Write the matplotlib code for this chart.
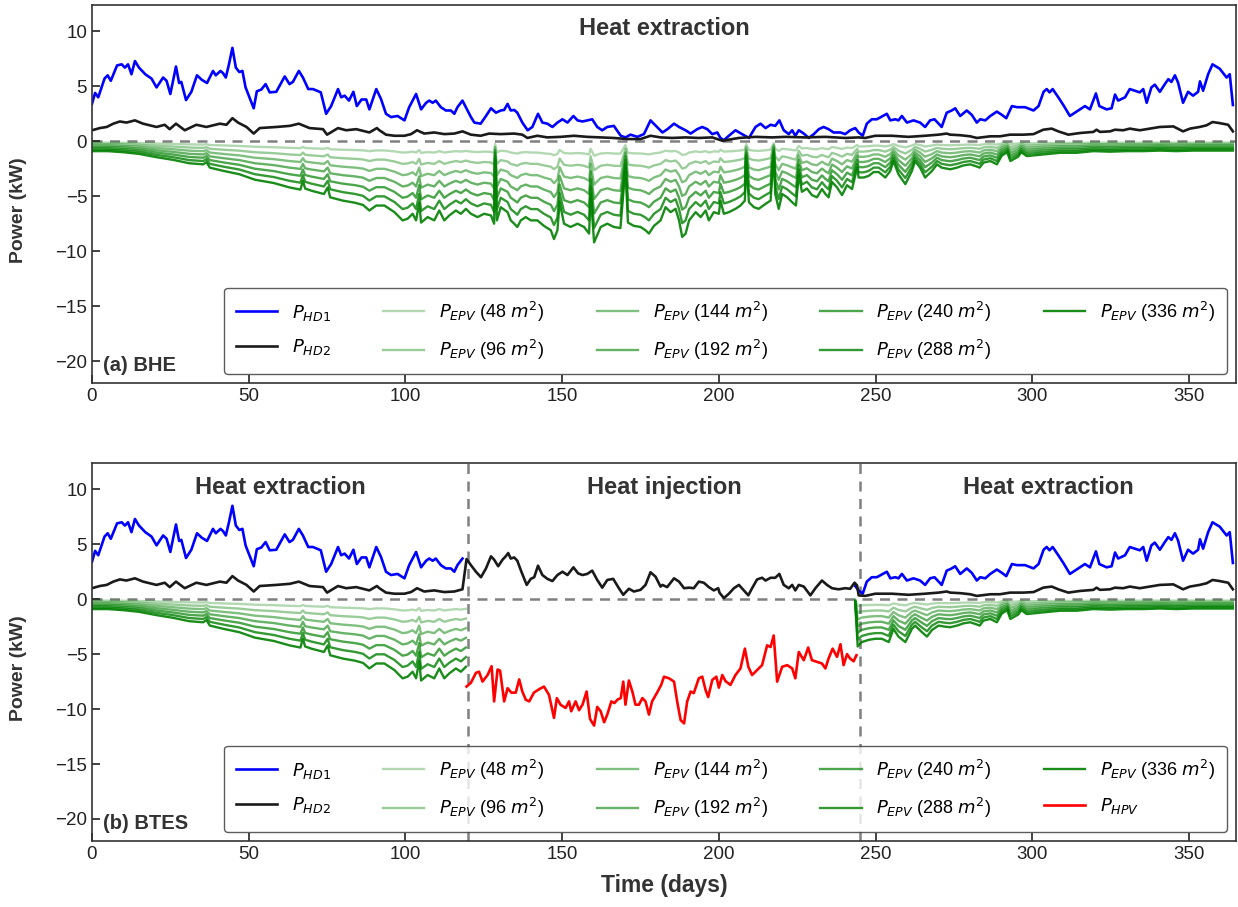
import numpy as np
import matplotlib
matplotlib.use('Agg')
import matplotlib.pyplot as plt

# ---- values, (day, kW) ----
hd1 = [(0, 3.4), (1, 4.4), (2, 4.0), (4, 5.7), (5, 6.0), (6, 5.5), (8, 6.9), (9.5, 7.0), (10.5, 6.7),
       (11.5, 7.0), (12.6, 6.1), (13.7, 7.3), (15, 6.7), (17, 6.1), (19, 5.7), (20.6, 4.9), (22.7, 5.8),
       (23.8, 5.5), (25, 4.3), (26.8, 6.8), (27.8, 5.3), (28.5, 5.4), (30, 3.75), (31.7, 4.5), (33.5, 6.0),
       (35, 5.6), (36.7, 5.3), (38.6, 6.4), (39.5, 6.0), (41, 6.4), (41.8, 6.2), (42.7, 5.8), (43.7, 7.0),
       (44.8, 8.5), (45.9, 6.7), (47, 6.3), (48, 6.4), (49, 4.9), (51.6, 3.0), (52.6, 4.55), (54, 4.7),
       (55.4, 5.2), (56.7, 4.45), (58.8, 4.5), (61.5, 5.9), (63, 5.2), (64.1, 5.4), (66, 6.4), (67.3, 5.8),
       (69, 4.75), (70.5, 4.75), (73, 4.45), (74.7, 2.5), (76.3, 3.2), (78.5, 4.75), (79.5, 4.0), (80.6, 4.15),
       (82, 3.7), (83.4, 4.5), (84.5, 3.2), (86, 3.8), (87.5, 3.8), (88.5, 2.9), (90.7, 4.75), (92.2, 3.85),
       (93.8, 2.5), (95.4, 2.2), (97.5, 2.3), (99.7, 1.9), (101.2, 3.1), (103.4, 4.3), (105, 2.9), (106.6, 3.5),
       (107.6, 3.7), (108.7, 3.5), (109.7, 3.7), (111.3, 3.1), (112.9, 2.8), (114.5, 2.8), (115.6, 2.5),
       (116.6, 3.1), (118.2, 3.7), (119.8, 2.8), (120.9, 2.2), (122, 1.7), (124, 1.6), (125.7, 2.3),
       (127.3, 3.0), (128.9, 2.6), (130.4, 2.8), (131.5, 2.85), (132.6, 3.4), (133.6, 2.8), (134.7, 2.85),
       (135.7, 2.6), (137.3, 1.7), (139, 1.0), (140.5, 1.3), (142.3, 2.5), (143.7, 1.7), (145.3, 1.6),
       (146.9, 1.3), (148.5, 1.7), (150.1, 2.0), (151.7, 1.7), (153.6, 2.3), (154.9, 1.9), (156.5, 1.8),
       (158, 1.9), (159.6, 2.0), (161.2, 1.3), (162.8, 1.0), (164.4, 1.3), (166.5, 1.4), (168.7, 0.5),
       (170.2, 0.35), (171.8, 0.6), (174, 0.4), (176.1, 0.65), (178.2, 1.9), (180.3, 1.3), (182, 0.8),
       (183.6, 1.1), (185.7, 1.6), (187.3, 1.3), (189.4, 1.0), (191, 0.7), (193.1, 1.1), (194.7, 1.3),
       (196.3, 1.1), (197.9, 0.65), (199.5, 0.8), (200.5, 0.3), (201.6, 0.1), (203.2, 0.5), (205.3, 1.0),
       (207.4, 0.65), (209.6, 0.3), (211.7, 1.3), (213.3, 1.6), (214.9, 1.2), (216.5, 1.5), (218, 1.4),
       (219.3, 1.9), (220.7, 1.0), (222.3, 0.65), (223.4, 1.0), (224.4, 0.5), (225.5, 1.0), (227.1, 0.7),
       (228.7, 0.3), (230.3, 0.65), (231.9, 1.1), (233.4, 1.3), (235, 1.1), (236.6, 0.8), (238.8, 0.8),
       (240.3, 0.65), (241.9, 1.0), (243.5, 1.2), (244.6, 0.8), (245.9, 0.5), (247.2, 1.6), (248.8, 2.0),
       (250.4, 2.0), (252, 2.25), (253.6, 2.5), (254.7, 1.9), (256.3, 2.0), (257.3, 1.9), (258.4, 2.3),
       (260, 1.7), (262.1, 1.9), (264.2, 1.7), (265.8, 1.3), (267.4, 1.9), (268.8, 2.0), (271.1, 1.3),
       (272.7, 2.6), (274.3, 2.8), (275.4, 3.0), (277, 2.3), (279.1, 2.8), (280.7, 2.4), (282.3, 1.7),
       (283.4, 2.0), (285, 1.9), (286.6, 2.3), (288.7, 2.7), (290.3, 2.4), (291.7, 2.1), (293.5, 3.2),
       (295.1, 3.1), (297.7, 3.1), (300.4, 2.8), (302, 3.2), (303.6, 4.5), (304.6, 4.75), (305.5, 4.45),
       (306.5, 4.75), (308.3, 4.0), (309.9, 3.3), (312, 2.3), (313.6, 2.6), (315.2, 2.9), (316.8, 3.2),
       (318.4, 2.9), (320.3, 4.35), (321.4, 3.2), (323.7, 2.9), (325.3, 3.0), (326.4, 4.25), (327.4, 3.7),
       (329.6, 4.0), (331.1, 4.75), (332.7, 4.6), (334.3, 4.45), (335.4, 4.75), (336.5, 3.5), (338, 4.9),
       (339.1, 5.15), (340.7, 4.5), (342.3, 5.2), (343.4, 5.65), (344.4, 5.4), (345.5, 6.0), (346.5, 5.35),
       (348.1, 3.5), (349.7, 4.5), (351.3, 4.15), (352.9, 4.5), (353.5, 5.45), (354.5, 4.6), (356.1, 6.1),
       (357.5, 7.0), (359.8, 6.6), (362, 5.8), (363, 6.1), (364, 3.3)]

hd2 = [(0, 1.0), (2.5, 1.2), (4.7, 1.3), (6.8, 1.6), (8.9, 1.8), (11, 1.7), (13.7, 1.9), (16.3, 1.6),
       (20.6, 1.3), (23.2, 1.5), (24.8, 1.1), (26.8, 1.6), (29.6, 1.0), (33.3, 1.5), (36.5, 1.3), (40.8, 1.6),
       (42.9, 1.5), (44.8, 2.1), (46.6, 1.7), (49.3, 1.3), (51.6, 0.7), (53.5, 1.2), (58.8, 1.3), (63.1, 1.4),
       (66, 1.6), (69.4, 1.2), (73.7, 1.1), (75, 0.6), (78.5, 1.2), (81.1, 1.0), (84.3, 1.1), (88.5, 0.8),
       (90.9, 1.2), (91.7, 1.0), (93.8, 0.6), (96.5, 0.5), (99.7, 0.5), (101.8, 0.65), (103.7, 1.0),
       (106, 0.7), (109.2, 0.8), (112.4, 0.65), (115.6, 0.7), (118.2, 0.9), (120.9, 0.6), (124, 0.5),
       (126.7, 0.7), (130.4, 0.65), (134.7, 0.7), (137.3, 0.6), (138.9, 0.3), (142.1, 0.5), (145.3, 0.35),
       (149.5, 0.4), (153.8, 0.5), (158, 0.4), (162.3, 0.35), (166.5, 0.3), (170.8, 0.2), (175, 0.2),
       (178.2, 0.5), (181.4, 0.35), (185.1, 0.3), (189.4, 0.35), (193.6, 0.3), (197.9, 0.35), (201.1, 0.05),
       (206.4, 0.3), (211.7, 0.4), (217, 0.35), (221.2, 0.4), (227.6, 0.35), (234, 0.4), (240.3, 0.3),
       (244.6, 0.35), (246.7, 0.3), (249.9, 0.5), (255.2, 0.5), (260.5, 0.4), (265.8, 0.5), (270.1, 0.6),
       (272.7, 0.7), (273.8, 0.6), (277, 0.55), (280.2, 0.45), (282.3, 0.3), (286.6, 0.45), (289.7, 0.45),
       (292.9, 0.6), (297.2, 0.6), (300.4, 0.65), (303.5, 1.05), (306.2, 1.15), (308.3, 0.9), (311.5, 0.6),
       (315.2, 0.75), (319.5, 0.85), (320.5, 1.05), (321.6, 0.85), (324.8, 0.9), (326.4, 1.05), (329, 1.0),
       (331.1, 1.15), (334.3, 1.0), (337.5, 1.15), (340.7, 1.3), (345, 1.35), (348.1, 0.9), (350.3, 1.15),
       (353.4, 1.3), (355.6, 1.45), (357.5, 1.75), (359.8, 1.65), (362.5, 1.5), (364, 0.9)]

# P_EPV of the largest field (336 m2); the smaller fields scale with collector area
epv336 = [(0, -0.9), (5, -0.9), (10, -1.0), (15, -1.15), (20.6, -1.45), (26, -1.7), (31, -2.0), (35.5, -2.1),
          (36.5, -1.9), (37.6, -2.4), (42, -2.7), (47, -3.0), (52, -3.5), (58, -3.8), (63, -4.2), (66.5, -4.4),
          (67.3, -3.6), (68, -4.3), (70, -4.5), (74, -4.8), (75.2, -4.2), (76, -5.1), (80, -5.4), (84, -5.6),
          (86.5, -5.8), (88.5, -6.3), (90.7, -5.85), (93.3, -5.85), (96.5, -6.45), (99.1, -7.2), (100.7, -7.05),
          (102.3, -6.6), (103.4, -7.2), (104.4, -5.6), (105, -7.4), (107.1, -6.9), (109.2, -7.2), (110.8, -6.3),
          (112.4, -7.2), (114, -6.75), (116.1, -6.3), (117.7, -6.6), (119.3, -6.15), (120.9, -6.6), (123, -6.9),
          (125.1, -6.6), (127.3, -6.75), (128.3, -7.5), (128.6, -1.8), (129.2, -7.2), (130.4, -6.0),
          (132.6, -6.45), (133.6, -7.2), (134.7, -7.5), (135.7, -7.8), (136.8, -7.2), (138.4, -6.9), (140, -7.2),
          (142.1, -7.2), (144.2, -7.7), (146.4, -8.1), (147.4, -8.9), (148.5, -8.1), (149.2, -5.5), (150.6, -7.5),
          (152.7, -7.8), (154.9, -7.5), (157, -7.8), (158.6, -8.4), (159.1, -4.8), (160.2, -9.2), (162.3, -7.8),
          (164.4, -7.5), (166.5, -7.8), (168.6, -7.9), (170.2, -2.4), (171, -7.4), (172.9, -7.7), (175, -7.8),
          (176.6, -8.1), (177.7, -8.4), (179.3, -7.7), (181.4, -7.2), (183, -6.0), (184.6, -6.45), (186.2, -6.15),
          (187.3, -7.2), (188.3, -8.7), (189.4, -8.4), (190.5, -7.2), (192.6, -6.45), (194.2, -6.9), (195.8, -6.3),
          (196.8, -7.2), (198.4, -6.45), (200, -6.6), (200.5, -5.4), (201.6, -6.6), (203.2, -6.45), (205.3, -6.15),
          (206.9, -5.85), (208.3, -5.4), (208.7, -1.8), (209.6, -5.55), (211.2, -6.0), (212.7, -6.15),
          (214.9, -5.7), (216.5, -5.4), (217.5, -1.2), (218, -4.8), (219.1, -6.15), (220.2, -4.8), (221.8, -5.1),
          (223.4, -5.55), (224.6, -5.85), (225.5, -3.0), (226.5, -4.6), (228.1, -4.3), (229.7, -4.9),
          (231.3, -5.1), (232.9, -4.35), (234, -4.8), (235, -5.1), (236.1, -3.7), (237.7, -4.2), (239.3, -4.9),
          (240.9, -4.0), (242.5, -4.35), (244.1, -2.4), (244.6, -3.3), (246.2, -3.3), (247.8, -3.15),
          (249.4, -2.8), (251, -2.8), (253.1, -3.3), (254.7, -2.7), (255.7, -1.8), (257.3, -3.0), (259.5, -3.9),
          (261.6, -2.7), (262.6, -1.8), (264.2, -2.4), (265.8, -3.3), (268, -2.7), (269.6, -2.1), (271.1, -2.4),
          (273.8, -2.55), (276, -2.4), (278, -2.2), (280.2, -2.1), (282.3, -2.3), (283.2, -2.4), (284.4, -1.95),
          (286.6, -1.8), (288.7, -2.1), (290.3, -1.3), (292, -1.0), (293, -1.8), (295.5, -1.4), (296.5, -1.0),
          (298.2, -1.35), (303.5, -1.2), (308.9, -1.05), (314.2, -1.05), (319.5, -0.9), (324.8, -0.95),
          (330.1, -0.9), (335.4, -0.9), (340.7, -0.85), (346, -0.9), (351.3, -0.85), (356.6, -0.85), (364, -0.85)]

# panel (b): 336 m2 curve right after injection stops
epv336_restart = [(243.5, -0.3), (244.3, -4.3), (245.6, -3.9), (247.8, -3.7), (249.9, -3.6), (252, -3.6),
                  (254.2, -3.9), (255.7, -2.7), (257.3, -3.4), (259.5, -3.9), (261.6, -2.7), (262.6, -2.4),
                  (264.8, -3.0), (266.4, -3.4), (268, -2.8), (270.1, -2.4), (272.2, -2.5)]

# panel (b): P_HD2 during heat injection
hd2_inj = [(119.5, 3.65), (120.9, 3.1), (122.5, 2.5), (124.1, 2.0), (125.7, 2.8), (127.3, 3.9), (128.3, 3.6),
           (129.6, 3.0), (131, 3.6), (132, 3.9), (132.8, 4.2), (133.6, 3.7), (134.7, 3.8), (135.7, 3.5),
           (137, 2.5), (138.7, 1.3), (140, 1.85), (141.1, 2.0), (142.3, 3.05), (143.7, 2.2), (145.3, 1.85),
           (146.9, 1.65), (148.5, 2.2), (150.1, 2.5), (151.7, 2.2), (153.6, 2.9), (155.1, 2.35), (156.5, 2.2),
           (158, 2.3), (159.6, 2.6), (161.2, 1.75), (162.8, 1.05), (164.4, 1.75), (166.3, 1.85), (168.1, 1.0),
           (169.5, 0.4), (171.3, 0.95), (172.9, 0.7), (175, 0.85), (176.6, 1.3), (178.2, 2.45), (179.8, 2.05),
           (181.4, 1.15), (182, 1.3), (183.5, 1.1), (185.7, 1.9), (187.3, 1.6), (188.9, 1.0), (190.5, 1.05),
           (192, 1.0), (193.6, 1.6), (195.2, 1.5), (196.8, 1.1), (198.4, 0.8), (199.8, 1.0), (200.2, 0.6),
           (201.6, 0.1), (203.2, 0.5), (204.8, 1.0), (206.4, 1.3), (208, 0.8), (209.4, 0.35), (210.6, 1.0),
           (212.2, 1.8), (213.8, 1.95), (214.9, 1.7), (216.5, 1.95), (218, 1.95), (219.3, 2.3), (220.7, 1.3),
           (222.3, 1.0), (223.4, 1.3), (224.4, 0.8), (225.5, 1.3), (227.1, 1.15), (229.2, 0.35), (230.8, 1.0),
           (232.9, 1.7), (234.5, 1.3), (236.1, 1.0), (238.2, 0.9), (240.3, 1.0), (241.9, 0.95), (243.3, 1.5),
           (244.1, 1.25)]

# panel (b): P_HPV during heat injection
hpv = [(119.5, -7.95), (120.9, -7.6), (122.5, -6.7), (123.5, -6.6), (124.6, -7.5), (126.2, -6.9), (127.5, -6.1),
       (128.3, -9.3), (129.4, -6.4), (130.2, -6.5), (131.5, -9.3), (132.6, -8.1), (133.8, -8.5), (135.2, -8.5),
       (136.3, -7.3), (137.3, -8.4), (138.4, -9.15), (139.5, -9.3), (141, -8.5), (142.6, -8.2), (144.2, -7.95),
       (145.8, -8.7), (147.4, -10.8), (148.3, -9.0), (149.5, -9.6), (151.1, -9.9), (152.2, -9.3), (152.9, -10.2),
       (154.3, -9.3), (155.4, -10.1), (156.5, -9.6), (157.8, -8.4), (158.9, -10.9), (160.2, -11.5), (161.2, -9.8),
       (162.3, -10.2), (163.4, -11.2), (164.4, -10.5), (165.7, -9.3), (166.7, -9.45), (167.6, -9.15),
       (168.7, -9.0), (169.5, -7.5), (170.2, -9.6), (171.3, -7.4), (172.4, -8.4), (173.4, -9.6), (174.5, -9.6),
       (175.6, -9.0), (176.6, -9.3), (177.7, -10.5), (178.7, -9.3), (180.3, -8.5), (181.6, -7.8), (182.5, -7.05),
       (184.1, -7.2), (185.7, -7.5), (186.7, -9.3), (187.8, -11.0), (188.9, -11.3), (189.9, -9.3), (191, -8.4),
       (192, -8.55), (193.6, -7.2), (194.7, -7.05), (195.8, -8.3), (196.6, -8.9), (197.9, -7.35), (199.2, -7.05),
       (200, -8.05), (201.1, -6.9), (202.1, -7.45), (203.7, -7.8), (205.3, -6.9), (206.9, -6.3), (208.3, -4.5),
       (209.4, -6.15), (210.6, -6.9), (212.2, -6.45), (213.8, -6.0), (215.4, -4.2), (216.5, -4.35), (217.5, -3.3),
       (218.6, -7.5), (220.2, -6.15), (221.8, -6.0), (223.4, -6.3), (224.4, -7.2), (225.5, -4.8), (227.1, -5.55),
       (228.5, -4.4), (229.7, -5.55), (231.3, -5.7), (232.9, -5.85), (234, -6.3), (235, -5.4), (236.3, -4.5),
       (237.7, -5.25), (238.8, -4.1), (239.8, -6.0), (240.9, -5.0), (241.9, -5.4), (243, -5.65), (243.9, -5.1)]

areas = [48, 96, 144, 192, 240, 288, 336]
green_alpha = [0.3, 0.4, 0.5, 0.6, 0.7, 0.8, 0.9]

inj_start, inj_end = 120, 245      # heat injection period of the BTES case (days)

plt.rcParams['font.family'] = ['Liberation Sans', 'DejaVu Sans']
plt.rcParams['mathtext.fontset'] = 'dejavusans'

TXT = '#333333'


def xy(pairs):
	a = np.array(pairs, dtype=float)
	return a[:, 0], a[:, 1]


def split(days, kw, keep):
	# drop the days not kept and break the line where the gap is
	d = np.where(keep, days, np.nan)
	k = np.where(keep, kw, np.nan)
	return d, k


def plot_epv(ax, days, kw):
	for area, alpha in zip(areas, green_alpha):
		ax.plot(days, kw * area / 336.0, color='green', alpha=alpha, lw=1.7,
		        label=r'$P_{EPV}$ (%d $m^2$)' % area)


def style_axes(ax, tag):
	ax.set_xlim(0, 365)
	ax.set_ylim(-22, 12.4)
	ax.set_xticks(range(0, 351, 50))
	ax.set_yticks(range(-20, 11, 5))
	ax.tick_params(direction='in', length=6, width=1.2, labelsize=13.5, colors='#222222')
	for s in ax.spines.values():
		s.set_color('#333333')
		s.set_linewidth(1.2)
	ax.axhline(0, color='gray', ls='--', lw=1.8, dashes=(4, 3), zorder=1)
	ax.set_ylabel('Power (kW)', fontsize=14, fontweight='bold', color=TXT)
	ax.yaxis.set_label_coords(-0.057, 0.458)
	ax.text(3.5, -20.4, tag, fontsize=14.5, fontweight='bold', color=TXT, va='center')
	leg = ax.legend(loc='lower right', ncol=5, fontsize=13, handlelength=2.3, handletextpad=0.8,
	                labelspacing=0.8, borderpad=0.65, columnspacing=2.9, fancybox=True,
	                borderaxespad=0.5)
	leg.get_frame().set_edgecolor('#333333')
	leg.get_frame().set_linewidth(1.0)


fig = plt.figure(figsize=(12.38, 9.07), dpi=100)
axA = fig.add_axes([0.0743, 0.5777, 0.9241, 0.4168])
axB = fig.add_axes([0.0743, 0.0728, 0.9241, 0.4168])

d1, p1 = xy(hd1)
d2, p2 = xy(hd2)
de, pe = xy(epv336)
dr, pr = xy(epv336_restart)
di, pi = xy(hd2_inj)
dh, ph = xy(hpv)

# ---- (a) BHE ----
axA.plot(d1, p1, color='blue', lw=1.9, label=r'$P_{HD1}$')
axA.plot(d2, p2, color='#1a1a1a', lw=1.9, label=r'$P_{HD2}$')
plot_epv(axA, de, pe)
axA.text(182.5, 10.3, 'Heat extraction', ha='center', va='center', fontsize=17,
         fontweight='bold', color=TXT)
style_axes(axA, '(a) BHE')

# ---- (b) BTES ----
last_ext = inj_start - 0.5     # last heat-extraction day before injection
first_ext = inj_end - 1.5      # first heat-extraction day after injection

bd, bk = split(d1, p1, (d1 < last_ext) | (d1 >= first_ext))
axB.plot(bd, bk, color='blue', lw=1.9, label=r'$P_{HD1}$')

before = d2 < last_ext
after = d2 >= inj_end - 0.5
hd2_d = np.concatenate([d2[before], di, d2[after]])
hd2_k = np.concatenate([p2[before], pi, p2[after]])
axB.plot(hd2_d, hd2_k, color='#1a1a1a', lw=1.9, label=r'$P_{HD2}$')

early = de < last_ext
late = de > dr[-1]
epv_d = np.concatenate([de[early], [np.nan], dr, de[late]])
epv_k = np.concatenate([pe[early], [np.nan], pr, pe[late]])
plot_epv(axB, epv_d, epv_k)

axB.plot(dh, ph, color='red', lw=1.9, label=r'$P_{HPV}$')

for x in (inj_start, inj_end):
	axB.axvline(x, color='gray', ls='--', lw=1.8, dashes=(4, 3), zorder=1)
for x, s in zip((inj_start / 2.0, (inj_start + inj_end) / 2.0, (inj_end + 365) / 2.0),
                ('Heat extraction', 'Heat injection', 'Heat extraction')):
	axB.text(x, 10.2, s, ha='center', va='center', fontsize=17, fontweight='bold', color=TXT)
style_axes(axB, '(b) BTES')
axB.set_xlabel('Time (days)', fontsize=16.5, fontweight='bold', color=TXT, labelpad=8)

fig.savefig('out.png', dpi=100)
